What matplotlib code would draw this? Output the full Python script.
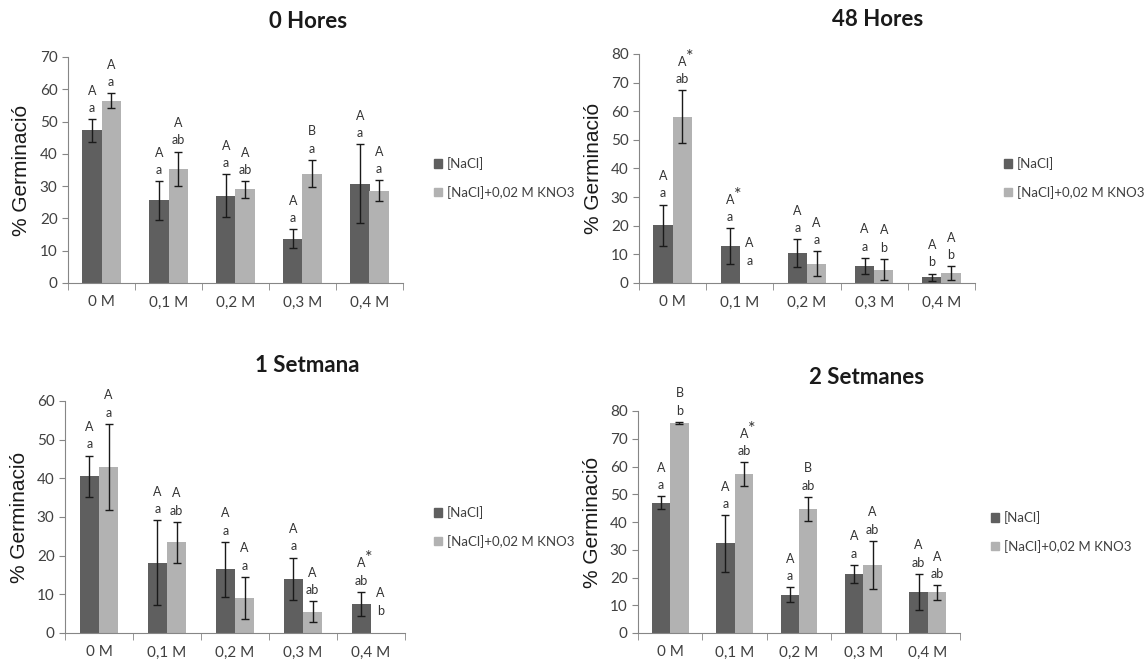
import numpy as np
import matplotlib
matplotlib.use("Agg")
import matplotlib.pyplot as plt
from matplotlib.patches import Patch

plt.rcParams['font.family'] = ['Lato', 'DejaVu Sans']

categories = ["0 M", "0,1 M", "0,2 M", "0,3 M", "0,4 M"]
series_names = ["[NaCl]", "[NaCl]+0,02 M KNO3"]
titles = ["0 Hores", "48 Hores", "1 Setmana", "2 Setmanes"]

# 0 Hores
h0_nacl = [47.3, 25.6, 27.0, 13.7, 30.8]
h0_nacl_err = [3.5, 6.0, 6.7, 3.0, 12.2]
h0_kno3 = [56.4, 35.4, 29.0, 33.9, 28.6]
h0_kno3_err = [2.3, 5.3, 2.6, 4.3, 3.3]
h0_nacl_lab = [("A", "a"), ("A", "a"), ("A", "a"), ("A", "a"), ("A", "a")]
h0_kno3_lab = [("A", "a"), ("A", "ab"), ("A", "ab"), ("B", "a"), ("A", "a")]

# 48 Hores
h48_nacl = [20.1, 12.9, 10.4, 6.0, 2.0]
h48_nacl_err = [7.3, 6.2, 4.8, 2.8, 1.3]
h48_kno3 = [58.1, 0.0, 6.7, 4.7, 3.5]
h48_kno3_err = [9.3, 0.0, 4.4, 3.7, 2.3]
h48_nacl_lab = [("A", "a"), ("A*", "a"), ("A", "a"), ("A", "a"), ("A", "b")]
h48_kno3_lab = [("A*", "ab"), ("A", "a"), ("A", "a"), ("A", "b"), ("A", "b")]

# 1 Setmana
s1_nacl = [40.6, 18.2, 16.5, 14.0, 7.5]
s1_nacl_err = [5.3, 10.9, 7.1, 5.5, 3.2]
s1_kno3 = [43.0, 23.5, 9.0, 5.5, 0.0]
s1_kno3_err = [11.1, 5.3, 5.5, 2.7, 0.0]
s1_nacl_lab = [("A", "a"), ("A", "a"), ("A", "a"), ("A", "a"), ("A*", "ab")]
s1_kno3_lab = [("A", "a"), ("A", "ab"), ("A", "a"), ("A", "ab"), ("A", "b")]

# 2 Setmanes
s2_nacl = [47.0, 32.3, 13.7, 21.3, 14.9]
s2_nacl_err = [2.3, 10.2, 2.7, 3.3, 6.5]
s2_kno3 = [75.7, 57.2, 44.8, 24.5, 14.6]
s2_kno3_err = [0.4, 4.3, 4.3, 8.7, 2.7]
s2_nacl_lab = [("A", "a"), ("A", "a"), ("A", "a"), ("A", "a"), ("A", "ab")]
s2_kno3_lab = [("B", "b"), ("A*", "ab"), ("B", "ab"), ("A", "ab"), ("A", "ab")]

ymax = [70, 80, 60, 80]

DARK = "#5f5f5f"
LIGHT = "#b2b2b2"
AXC = "#868686"
TXT = "#404040"


def put_labels(ax, xs, tops, labels):
    for x, top, (up, low) in zip(xs, tops, labels):
        extra = 8 if top == 0 else 0
        ax.annotate(low, (x, top), xytext=(0, 8 + extra), textcoords="offset points",
                    ha="center", va="center", fontsize=9, color="#333333")
        ax.annotate(up.rstrip("*"), (x, top), xytext=(0, 20.5 + extra), textcoords="offset points",
                    ha="center", va="center", fontsize=9, color="#333333")
        if up.endswith("*"):
            ax.annotate("*", (x, top), xytext=(5.5, 24 + extra), textcoords="offset points",
                        ha="center", va="center", fontsize=13, color="#333333")


def draw_panel(fig, rect, title, title_xy, legend_xy, ylab_x, top,
               nacl, nacl_err, kno3, kno3_err, nacl_lab, kno3_lab):
    ax = fig.add_axes(rect)
    x = np.arange(len(categories))
    w = 0.285
    ax.bar(x - w / 2, nacl, w, color=DARK, label=series_names[0])
    ax.bar(x + w / 2, kno3, w, color=LIGHT, label=series_names[1])
    ek = dict(ecolor="#1a1a1a", elinewidth=1.0, capsize=3, capthick=1.0, fmt="none")
    for xs, vals, errs in [(x - w / 2, nacl, nacl_err), (x + w / 2, kno3, kno3_err)]:
        errs = np.array(errs)
        keep = errs > 0
        ax.errorbar(xs[keep], np.array(vals)[keep], yerr=errs[keep], **ek)
    put_labels(ax, x - w / 2, np.array(nacl) + np.array(nacl_err), nacl_lab)
    put_labels(ax, x + w / 2, np.array(kno3) + np.array(kno3_err), kno3_lab)

    ax.set_xlim(-0.5, len(categories) - 0.5)
    ax.set_ylim(0, top)
    ax.set_yticks(np.arange(0, top + 1, 10))
    ax.set_xticks(x)
    ax.set_xticklabels(categories)
    ax.set_xticks(np.arange(-0.5, len(categories)), minor=True)
    ax.tick_params(axis="x", which="major", length=0, pad=9, labelsize=11, labelcolor=TXT)
    ax.tick_params(axis="x", which="minor", length=5, color=AXC, direction="out")
    ax.tick_params(axis="y", length=4, color=AXC, labelsize=11, labelcolor=TXT)
    for s in ["top", "right"]:
        ax.spines[s].set_visible(False)
    for s in ["left", "bottom"]:
        ax.spines[s].set_color(AXC)

    fig.text(ylab_x, rect[1] + rect[3] / 2, "% Germinació", rotation=90,
             ha="center", va="center", fontsize=15, family="Liberation Sans", color="#1a1a1a")
    fig.text(title_xy[0], title_xy[1], title, ha="center", va="center",
             fontsize=16, fontweight="bold", color="#1a1a1a")
    handles = [Patch(color=DARK), Patch(color=LIGHT)]
    ax.legend(handles, series_names, loc="center left", bbox_to_anchor=legend_xy,
              bbox_transform=fig.transFigure, frameon=False, handlelength=0.6,
              handleheight=0.6, handletextpad=0.4, labelspacing=1.2, fontsize=9.5,
              labelcolor=TXT)
    return ax


fig = plt.figure(figsize=(11.46, 6.62), dpi=100)
W, H = 1146, 662


def frac(l, r, t, b):
    return [l / W, 1 - b / H, (r - l) / W, (b - t) / H]


draw_panel(fig, frac(68, 403, 57, 283), titles[0], (308 / W, 1 - 22 / H), (422 / W, 1 - 178 / H),
           22 / W, ymax[0], h0_nacl, h0_nacl_err, h0_kno3, h0_kno3_err, h0_nacl_lab, h0_kno3_lab)
draw_panel(fig, frac(639, 975, 54, 283), titles[1], (878 / W, 1 - 20 / H), (992 / W, 1 - 178 / H),
           593 / W, ymax[1], h48_nacl, h48_nacl_err, h48_kno3, h48_kno3_err, h48_nacl_lab, h48_kno3_lab)
draw_panel(fig, frac(65, 405, 401, 633), titles[2], (307 / W, 1 - 365 / H), (422 / W, 1 - 527 / H),
           20 / W, ymax[2], s1_nacl, s1_nacl_err, s1_kno3, s1_kno3_err, s1_nacl_lab, s1_kno3_lab)
draw_panel(fig, frac(638, 960, 411, 633), titles[3], (867 / W, 1 - 377 / H), (979 / W, 1 - 532 / H),
           592 / W, ymax[3], s2_nacl, s2_nacl_err, s2_kno3, s2_kno3_err, s2_nacl_lab, s2_kno3_lab)

fig.savefig("out.png", dpi=100)
